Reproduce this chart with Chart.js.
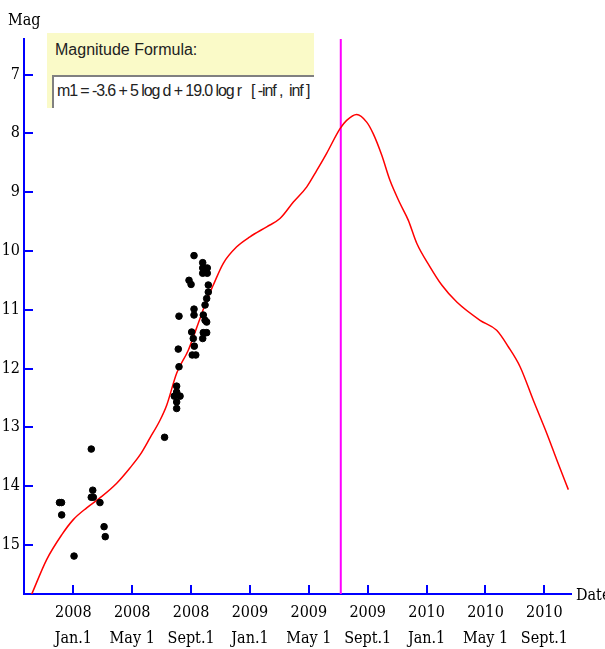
<!DOCTYPE html>
<html>
<head>
<meta charset="utf-8">
<script src="https://cdn.jsdelivr.net/npm/chart.js@4"></script>
<style>
  html, body { margin: 0; padding: 0; background: #fff; }
  #wrap { position: relative; width: 605px; height: 649px; }
  #formulaBox {
    position: absolute; left: 47px; top: 33px; width: 267px; height: 75px;
    background: #fafac8;
  }
  #formulaTitle {
    position: absolute; left: 8px; top: 8px;
    font: 16px "Liberation Sans", Arial, sans-serif; color: #222;
  }
  #formulaField {
    position: absolute; left: 5px; top: 42px; width: 262px; height: 33px;
    background: #fff; border-top: 2px solid #808080; border-left: 2px solid #808080;
    box-sizing: border-box;
  }
  #formulaText {
    position: absolute; left: 3px; top: 5px; white-space: pre; letter-spacing: -1.1px;
    font: 16px "Liberation Sans", Arial, sans-serif; color: #222;
  }
</style>
</head>
<body>
<div id="wrap">
  <canvas id="chartMag" width="605" height="649"></canvas>
  <div id="formulaBox">
    <div id="formulaTitle">Magnitude Formula:</div>
    <div id="formulaField"><div id="formulaText">m1 = -3.6 + 5 log d + 19.0 log r   [ -inf ,  inf ]</div></div>
  </div>
</div>
<script>
// ===============================
// DATA (x = months since 2008 Jan.1)
// ===============================
const xTickMonths = [0, 4, 8, 12, 16, 20, 24, 28, 32];
const xTickYears  = ["2008", "2008", "2008", "2009", "2009", "2009", "2010", "2010", "2010"];
const xTickDays   = ["Jan.1", "May 1", "Sept.1", "Jan.1", "May 1", "Sept.1", "Jan.1", "May 1", "Sept.1"];
const yTicks      = [7, 8, 9, 10, 11, 12, 13, 14, 15];

// predicted magnitude curve
const curveMonths = [-2.83, -1.81, -0.79, 0.00, 0.91, 1.81, 2.95, 3.85, 4.53, 5.21, 5.89, 6.35, 7.02,
  7.81, 8.49, 9.06, 9.51, 10.19, 11.10, 12.00, 13.14, 14.04, 14.95, 15.86, 16.54, 17.21, 18.12,
  18.57, 19.25, 19.93, 20.38, 20.95, 21.51, 22.19, 22.76, 23.33, 24.23, 25.03, 26.05, 27.63,
  28.76, 29.55, 30.35, 31.25, 32.16, 32.84, 33.63];
const curveMags = [15.84, 15.25, 14.83, 14.57, 14.37, 14.20, 13.95, 13.69, 13.47, 13.18, 12.88, 12.62, 12.08,
  11.69, 11.23, 10.84, 10.58, 10.21, 9.93, 9.76, 9.59, 9.45, 9.17, 8.91, 8.63, 8.34, 7.92,
  7.78, 7.68, 7.81, 8.01, 8.37, 8.80, 9.19, 9.48, 9.87, 10.27, 10.58, 10.87, 11.18,
  11.35, 11.63, 11.97, 12.54, 13.10, 13.55, 14.06];

// observations
const obsMonths = [-0.94, -0.80, -0.79, 0.05, 1.22, 1.32, 1.22, 1.36, 1.81, 2.09, 2.17, 6.20,
  8.20, 8.79, 8.79, 9.10, 8.79, 9.10, 7.86, 8.00, 9.17, 9.17, 9.06, 8.95, 8.20, 8.20, 7.18,
  8.83, 8.95, 9.06, 8.04, 8.83, 9.06, 8.79, 8.15, 8.22, 8.08, 8.32, 7.13, 7.18, 7.02, 7.02,
  6.86, 7.25, 7.02, 7.02];
const obsMags = [14.28, 14.28, 14.49, 15.19, 13.37, 14.07, 14.19, 14.19, 14.28, 14.69, 14.86, 13.17,
  10.08, 10.20, 10.29, 10.29, 10.38, 10.38, 10.50, 10.57, 10.58, 10.70, 10.81, 10.92, 10.99, 11.09, 11.11,
  11.09, 11.18, 11.21, 11.38, 11.39, 11.39, 11.49, 11.49, 11.62, 11.77, 11.77, 11.67, 11.97, 12.30, 12.40,
  12.47, 12.47, 12.57, 12.68];

// perihelion marker
const markerMonth = 18.17;
const markerMags  = [6.396, 15.835];

// ===============================
// HELPERS
// ===============================
const tickFont = { family: "'DejaVu Serif Condensed', 'Liberation Serif', serif", size: 16, lineHeight: 1.625 };
const AXIS_BLUE = "#0000ff";

const axisDecor = {
  id: "axisDecor",
  afterDraw(chart) {
    const { ctx, chartArea, scales: { x, y } } = chart;
    ctx.save();
    ctx.strokeStyle = AXIS_BLUE;
    ctx.lineWidth = 2;
    yTicks.forEach(v => {
      const py = Math.round(y.getPixelForValue(v));
      ctx.beginPath();
      ctx.moveTo(chartArea.left, py);
      ctx.lineTo(chartArea.left + 9, py);
      ctx.stroke();
    });
    xTickMonths.forEach(v => {
      const px = Math.round(x.getPixelForValue(v));
      ctx.beginPath();
      ctx.moveTo(px, chartArea.bottom);
      ctx.lineTo(px, chartArea.bottom - 9);
      ctx.stroke();
    });
    ctx.fillStyle = "#000";
    ctx.font = "16px " + tickFont.family;
    ctx.textBaseline = "middle";
    ctx.textAlign = "left";
    ctx.fillText("Mag", 8, 21);
    ctx.fillText("Date", chartArea.right + 5, chartArea.bottom + 2);
    ctx.restore();
  }
};

// ===============================
// CHART
// ===============================
new Chart(document.getElementById("chartMag"), {
  type: "scatter",
  data: {
    datasets: [
      {
        label: "Observed",
        data: obsMonths.map((m, i) => ({ x: m, y: obsMags[i] })),
        backgroundColor: "#000",
        borderColor: "#000",
        pointRadius: 3.3,
        order: 0
      },
      {
        label: "Predicted",
        type: "line",
        data: curveMonths.map((m, i) => ({ x: m, y: curveMags[i] })),
        borderColor: "#ff0000",
        borderWidth: 1.5,
        pointRadius: 0,
        cubicInterpolationMode: "monotone",
        fill: false,
        order: 1
      },
      {
        label: "Perihelion",
        type: "line",
        data: markerMags.map(v => ({ x: markerMonth, y: v })),
        borderColor: "#ff00ff",
        borderWidth: 2,
        pointRadius: 0,
        fill: false,
        order: 2
      }
    ]
  },
  options: {
    responsive: false,
    animation: false,
    devicePixelRatio: 1,
    layout: { padding: { top: 39, right: 34, left: 0, bottom: 0 } },
    plugins: { legend: { display: false }, tooltip: { enabled: false } },
    scales: {
      x: {
        type: "linear",
        min: -3.35,
        max: 33.81,
        afterBuildTicks: s => { s.ticks = xTickMonths.map(v => ({ value: v })); },
        afterFit: s => { s.height = 55; },
        grid: { display: false, drawTicks: false },
        border: { color: AXIS_BLUE, width: 2 },
        ticks: {
          autoSkip: false,
          maxRotation: 0,
          padding: 6,
          color: "#000",
          font: tickFont,
          callback: v => {
            const i = xTickMonths.indexOf(v);
            return i < 0 ? "" : [xTickYears[i], xTickDays[i]];
          }
        }
      },
      y: {
        type: "linear",
        reverse: true,
        min: 6.396,
        max: 15.835,
        afterBuildTicks: s => { s.ticks = yTicks.map(v => ({ value: v })); },
        afterFit: s => { s.width = 24; },
        grid: { display: false, drawTicks: false },
        border: { color: AXIS_BLUE, width: 2 },
        ticks: { padding: 4, color: "#000", font: tickFont }
      }
    }
  },
  plugins: [axisDecor]
});
</script>
</body>
</html>
